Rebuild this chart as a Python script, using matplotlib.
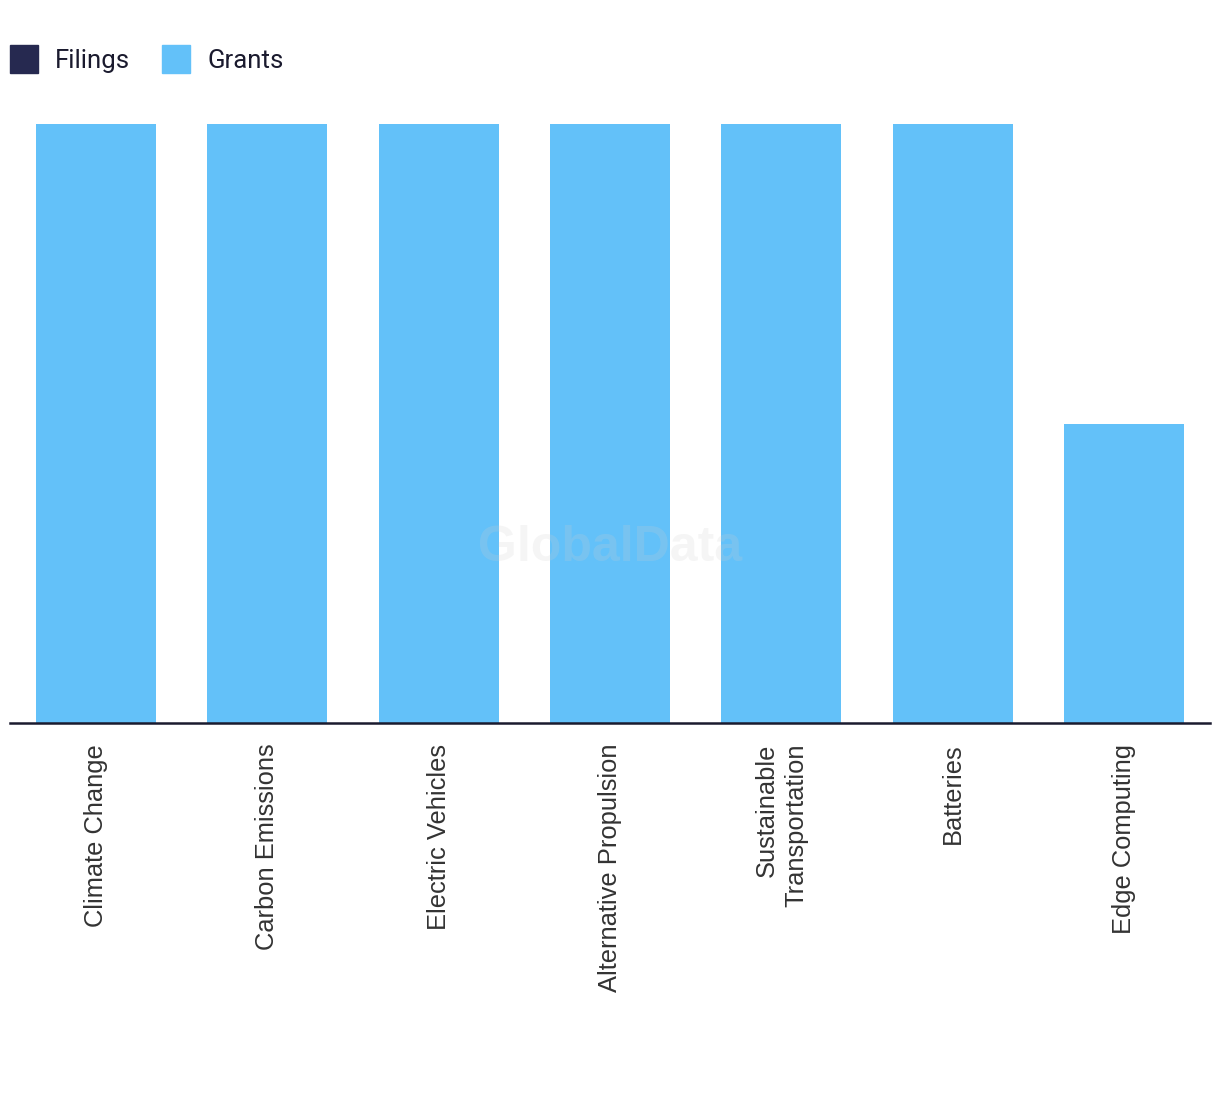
import matplotlib.pyplot as plt
import numpy as np
from matplotlib.patches import Patch

categories = ["Climate Change", "Carbon Emissions", "Electric Vehicles",
              "Alternative Propulsion", "Sustainable\nTransportation",
              "Batteries", "Edge Computing"]
filings = [0, 0, 0, 0, 0, 0, 0]
grants = [2, 2, 2, 2, 2, 2, 1]

filings_color = "#262950"
grants_color = "#63c1f9"

plt.rcParams['font.family'] = ['Liberation Sans', 'DejaVu Sans']

fig = plt.figure(figsize=(12.2, 10.94), dpi=100)
ax = fig.add_axes([10 / 1220, 1 - 723 / 1094, 1200 / 1220, (723 - 124) / 1094])

x = np.arange(len(categories))
ax.bar(x, filings, width=0.7, color=filings_color)
ax.bar(x, grants, width=0.7, bottom=filings, color=grants_color)

ax.set_xlim(-0.5, len(categories) - 0.5)
ax.set_ylim(0, 2)
ax.set_xticks(x)
ax.set_xticklabels(categories, rotation=90, fontsize=18.4, color="#333333",
                   multialignment="right", linespacing=1.3)
ax.tick_params(axis="x", length=0, pad=15)
ax.set_yticks([])
for s in ["top", "right", "left"]:
    ax.spines[s].set_visible(False)
ax.spines["bottom"].set_color("#1a1a2e")
ax.spines["bottom"].set_linewidth(1.8)

# watermark
fig.text(610 / 1220, 1 - 548 / 1094, "GlobalData", fontsize=36, fontweight="bold",
         color="#d0d0d0", alpha=0.2, ha="center", va="center")

handles = [Patch(color=filings_color, label="Filings"),
           Patch(color=grants_color, label="Grants")]
fig.legend(handles=handles, loc="upper left",
           bbox_to_anchor=(10 / 1220, 1 - 45 / 1094),
           ncol=2, frameon=False, handlelength=1.09,
           handleheight=1.3, handletextpad=0.66, columnspacing=1.25,
           labelcolor="#1a1a2e", borderaxespad=0.0, borderpad=0.0,
           prop={"family": ["Roboto", "DejaVu Sans"], "size": 18.5})

fig.savefig("out.png", dpi=100)
